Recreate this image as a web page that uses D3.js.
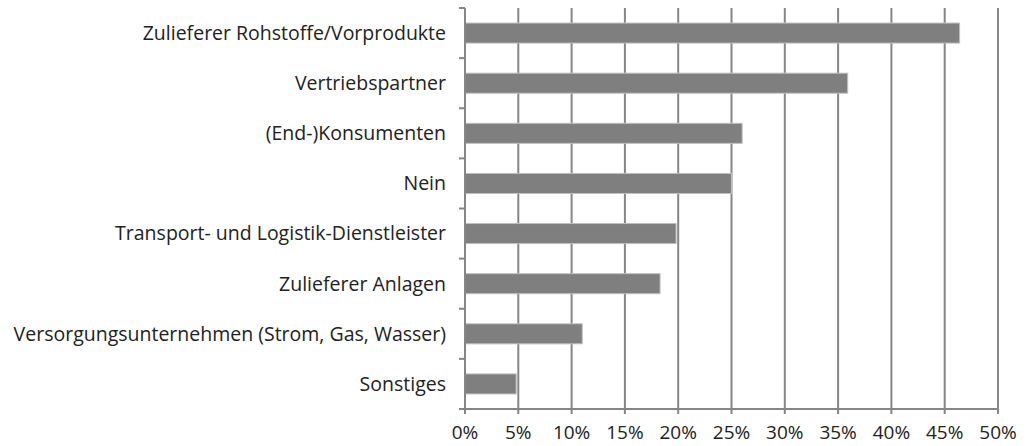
<!DOCTYPE html>
<html>
<head>
<meta charset="utf-8">
<script src="https://cdn.jsdelivr.net/npm/d3@7"></script>
<style>
  body { margin: 0; background: #fff; }
  text { font-family: "Open Sans", "Noto Sans", sans-serif; fill: #222; }
</style>
</head>
<body>
<svg id="chart" width="1028" height="446"></svg>
<script>
// categories, top to bottom
const categories = [
  "Zulieferer Rohstoffe/Vorprodukte",
  "Vertriebspartner",
  "(End-)Konsumenten",
  "Nein",
  "Transport- und Logistik-Dienstleister",
  "Zulieferer Anlagen",
  "Versorgungsunternehmen (Strom, Gas, Wasser)",
  "Sonstiges"
];
const values = [46.4, 35.9, 26.0, 25.0, 19.8, 18.3, 11.0, 4.8];
const tickValues = [0, 5, 10, 15, 20, 25, 30, 35, 40, 45, 50];

const svg = d3.select('#chart');
const margin = { top: 8, left: 465, right: 30, bottom: 37 };
const width = 1028 - margin.left - margin.right;
const height = 446 - margin.top - margin.bottom;

const g = svg.append('g').attr('transform', `translate(${margin.left},${margin.top})`);

const x = d3.scaleLinear().domain([0, 50]).range([0, 533]);
const y = d3.scaleBand().domain(categories).range([0, height]).paddingInner(0.6).paddingOuter(0.3);

const axisColor = '#868686';

// vertical gridlines
g.selectAll('.grid')
  .data(tickValues.slice(1))
  .join('line')
  .attr('class', 'grid')
  .attr('x1', d => x(d)).attr('x2', d => x(d))
  .attr('y1', 0).attr('y2', height + 5)
  .attr('stroke', axisColor)
  .attr('stroke-width', 2);

// bars
g.selectAll('.bar')
  .data(values)
  .join('rect')
  .attr('class', 'bar')
  .attr('x', 0)
  .attr('y', (d, i) => y(categories[i]))
  .attr('width', d => x(d))
  .attr('height', y.bandwidth())
  .attr('fill', '#7f7f7f')
  .attr('stroke', '#c0c0c0')
  .attr('stroke-width', 1);

// left axis line + category boundary ticks
g.append('line')
  .attr('x1', 0).attr('x2', 0)
  .attr('y1', 0).attr('y2', height)
  .attr('stroke', axisColor).attr('stroke-width', 2);

const step = y.step();
g.selectAll('.ytick')
  .data(d3.range(categories.length + 1))
  .join('line')
  .attr('class', 'ytick')
  .attr('x1', -6).attr('x2', 0)
  .attr('y1', i => i * step).attr('y2', i => i * step)
  .attr('stroke', axisColor).attr('stroke-width', 2);

// bottom axis
g.append('line')
  .attr('x1', -1).attr('x2', x(50) + 1)
  .attr('y1', height).attr('y2', height)
  .attr('stroke', axisColor).attr('stroke-width', 2);

g.append('line')
  .attr('x1', 0).attr('x2', 0)
  .attr('y1', height).attr('y2', height + 5)
  .attr('stroke', axisColor).attr('stroke-width', 2);

// category labels
g.selectAll('.cat')
  .data(categories)
  .join('text')
  .attr('class', 'cat')
  .attr('x', -19)
  .attr('y', d => y(d) + y.bandwidth() / 2)
  .attr('dy', '0.35em')
  .attr('text-anchor', 'end')
  .style('font-size', '19.5px')
  .text(d => d);

// x tick labels
g.selectAll('.xlab')
  .data(tickValues)
  .join('text')
  .attr('class', 'xlab')
  .attr('x', d => x(d))
  .attr('y', height + 30)
  .attr('text-anchor', 'middle')
  .style('font-size', '19px')
  .text(d => d + '%');
</script>
</body>
</html>
